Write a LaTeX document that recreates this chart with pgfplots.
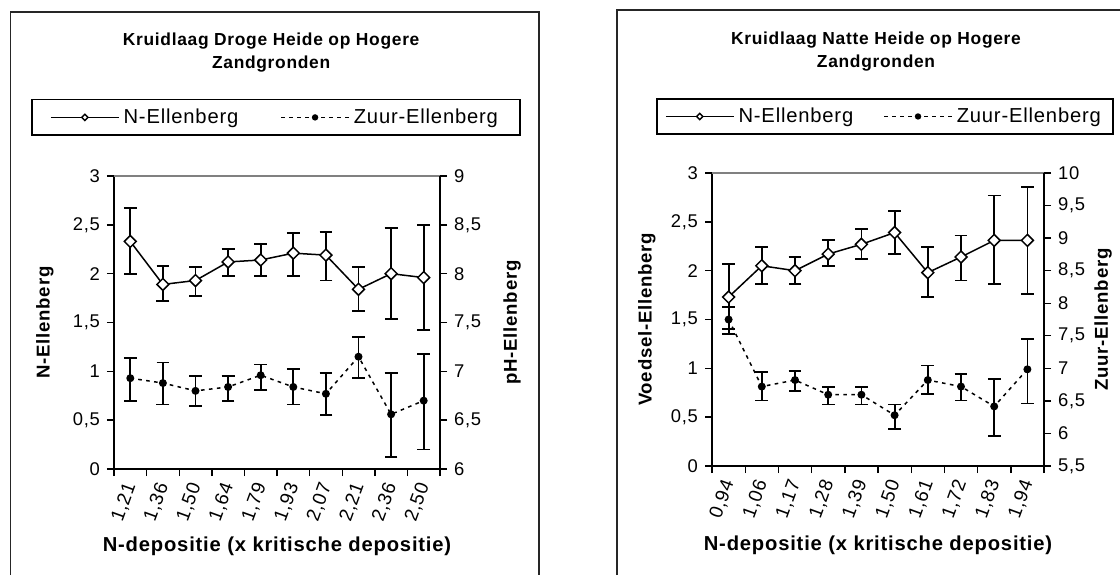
\documentclass[border=0pt]{standalone}
\usepackage{fontspec}
\setmainfont{Liberation Sans}[LetterSpace=4]
\usepackage{pgfplots}
\pgfplotsset{compat=1.18}
\usepackage{pgfplotstable}

% left chart: N-Ellenberg
\pgfplotstableread{
x   y    ep   em
0.5 2.33 0.34 0.33
1.5 1.89 0.19 0.17
2.5 1.93 0.14 0.16
3.5 2.12 0.13 0.14
4.5 2.14 0.16 0.16
5.5 2.21 0.21 0.23
6.5 2.19 0.24 0.26
7.5 1.84 0.23 0.22
8.5 2.00 0.47 0.46
9.5 1.96 0.54 0.54
}\leftN
% left chart: pH-Ellenberg (Zuur)
\pgfplotstableread{
x   y    ep    em
0.5 6.93 0.21  0.23
1.5 6.88 0.21  0.22
2.5 6.80 0.15  0.155
3.5 6.84 0.11  0.14
4.5 6.96 0.11  0.15
5.5 6.84 0.18  0.18
6.5 6.77 0.215 0.22
7.5 7.15 0.20  0.22
8.5 6.56 0.425 0.44
9.5 6.70 0.48  0.50
}\leftZ
% right chart: Voedsel (N)-Ellenberg
\pgfplotstableread{
x   y    ep   em
0.5 1.73 0.34 0.33
1.5 2.05 0.19 0.19
2.5 2.00 0.14 0.14
3.5 2.17 0.14 0.12
4.5 2.27 0.16 0.15
5.5 2.39 0.22 0.22
6.5 1.98 0.26 0.25
7.5 2.14 0.22 0.24
8.5 2.31 0.46 0.45
9.5 2.31 0.55 0.55
}\rightN
% right chart: Zuur-Ellenberg
\pgfplotstableread{
x   y     ep    em
0.5 7.75  0.195 0.225
1.5 6.72  0.22  0.215
2.5 6.82  0.14  0.165
3.5 6.595 0.12  0.15
4.5 6.595 0.12  0.15
5.5 6.28  0.165 0.21
6.5 6.82  0.225 0.21
7.5 6.72  0.19  0.215
8.5 6.415 0.42  0.45
9.5 6.985 0.465 0.525
}\rightZ

\pgfplotsset{
  base/.style={
    scale only axis, xmin=0, xmax=10, enlargelimits=false, clip=false,
    axis line style={-, line width=0.7pt, black},
    tick style={line width=0.7pt, black},
    tick align=outside, major tick length=3.5pt, minor tick length=3.5pt,
    /pgf/number format/assume math mode=true,
    /pgf/number format/use comma,
    ticklabel style={font=\fontsize{9.2}{10}\selectfont},
  },
  nstyle/.style={black, line width=0.75pt, mark=square*, mark size=2.1pt,
    mark options={rotate=45, fill=white, solid, line width=0.75pt},
    error bars/.cd, y dir=both, y explicit,
    error bar style={line width=0.9pt, black, solid},
    error mark options={rotate=90, mark size=3.2pt, line width=0.9pt, solid}},
  zstyle/.style={black, line width=0.75pt, dash pattern=on 1.8pt off 2.2pt,
    mark=*, mark size=1.6pt, mark options={solid},
    error bars/.cd, y dir=both, y explicit,
    error bar style={line width=0.9pt, black, solid},
    error mark options={rotate=90, mark size=3.2pt, line width=0.9pt, solid}},
  legimg/.style={legend image code/.code={%
    \draw[mark repeat=2, mark phase=2] plot coordinates {(0pt,0pt) (17pt,0pt) (34pt,0pt)};}},
}

\begin{document}
\begin{tikzpicture}
\useasboundingbox (0,0) rectangle (560pt,287.5pt);
% chart frames
\draw[line width=0.6pt, black!85] (5.35pt,0pt) -- (5.35pt,281.5pt) -- (269.5pt,281.5pt) -- (269.5pt,0pt);
\draw[line width=0.6pt, black!85] (308.5pt,0pt) -- (308.5pt,282.5pt) -- (560pt,282.5pt);

% ---------------- left chart ----------------
\begin{axis}[base, at={(57pt,53pt)}, anchor=south west, width=163pt, height=146.5pt,
  ymin=0, ymax=3, ytick={0,0.5,...,3},
  axis x line*=bottom, axis y line*=left,
  xtick={0.5,1.5,...,9.5},
  xticklabels={{1,21},{1,36},{1,50},{1,64},{1,79},{1,93},{2,07},{2,21},{2,36},{2,50}},
  major x tick style={draw=none},
  minor xtick={0,1,...,10},
  xticklabel style={rotate=70, anchor=east, yshift=-1.5pt, font=\fontsize{9.5}{10}\selectfont},
  xlabel={N-depositie (x kritische depositie)},
  every axis x label/.style={at={(axis description cs:0.5,-0.265)}, anchor=center, font=\fontsize{10.1}{11}\selectfont\bfseries},
  ylabel={N-Ellenberg},
  every axis y label/.style={at={(axis description cs:-0.212,0.5)}, rotate=90, anchor=center, font=\fontsize{9.3}{11}\selectfont\bfseries},
  title={Kruidlaag Droge Heide op Hogere\\Zandgronden},
  every axis title/.style={at={(axis description cs:0.482,1.4215)}, anchor=center, align=center, font=\fontsize{8.7}{11.2}\selectfont\bfseries},
]
\draw[gray, line width=0.7pt] (rel axis cs:0,1) -- (rel axis cs:1,1);
\addplot[nstyle] table[x=x, y=y, y error plus=ep, y error minus=em]{\leftN};
\end{axis}
\begin{axis}[base, at={(57pt,53pt)}, anchor=south west, width=163pt, height=146.5pt,
  ymin=6, ymax=9, ytick={6,6.5,...,9},
  axis y line*=right, axis x line=none,
  ylabel={pH-Ellenberg},
  every axis y label/.style={at={(axis description cs:1.221,0.5)}, rotate=90, anchor=center, font=\fontsize{9.3}{11}\selectfont\bfseries},
  legimg,
  legend columns=2,
  legend style={at={(axis description cs:0.497,1.2)}, anchor=center, draw=black, line width=0.7pt,
    font=\fontsize{10.1}{11}\selectfont, inner xsep=9pt, inner ysep=2.4pt,
    /tikz/every even column/.append style={column sep=19pt}},
]
\addlegendimage{black, line width=0.75pt, mark=square*, mark size=1.1pt, mark options={rotate=45, fill=white, solid, line width=0.7pt}}
\addlegendentry{N-Ellenberg}
\addlegendimage{black, line width=0.75pt, dash pattern=on 1.8pt off 2.2pt, mark=*, mark size=1.2pt, mark options={solid}}
\addlegendentry{Zuur-Ellenberg}
\addplot[forget plot, zstyle] table[x=x, y=y, y error plus=ep, y error minus=em]{\leftZ};
\end{axis}

% ---------------- right chart ----------------
\begin{axis}[base, at={(356pt,54.5pt)}, anchor=south west, width=166pt, height=146.5pt,
  ymin=0, ymax=3, ytick={0,0.5,...,3},
  axis x line*=bottom, axis y line*=left,
  xtick={0.5,1.5,...,9.5},
  xticklabels={{0,94},{1,06},{1,17},{1,28},{1,39},{1,50},{1,61},{1,72},{1,83},{1,94}},
  major x tick style={draw=none},
  minor xtick={0,1,...,10},
  xticklabel style={rotate=70, anchor=east, yshift=-1.5pt, font=\fontsize{9.5}{10}\selectfont},
  xlabel={N-depositie (x kritische depositie)},
  every axis x label/.style={at={(axis description cs:0.5,-0.27)}, anchor=center, font=\fontsize{10.1}{11}\selectfont\bfseries},
  ylabel={Voedsel-Ellenberg},
  every axis y label/.style={at={(axis description cs:-0.196,0.5)}, rotate=90, anchor=center, font=\fontsize{9.3}{11}\selectfont\bfseries},
  title={Kruidlaag Natte Heide op Hogere\\Zandgronden},
  every axis title/.style={at={(axis description cs:0.494,1.4147)}, anchor=center, align=center, font=\fontsize{8.7}{11.2}\selectfont\bfseries},
]
\draw[gray, line width=0.7pt] (rel axis cs:0,1) -- (rel axis cs:1,1);
\addplot[nstyle] table[x=x, y=y, y error plus=ep, y error minus=em]{\rightN};
\end{axis}
\begin{axis}[base, at={(356pt,54.5pt)}, anchor=south west, width=166pt, height=146.5pt,
  ymin=5.5, ymax=10, ytick={5.5,6,...,10},
  axis y line*=right, axis x line=none,
  ylabel={Zuur-Ellenberg},
  every axis y label/.style={at={(axis description cs:1.178,0.5)}, rotate=90, anchor=center, font=\fontsize{9.3}{11}\selectfont\bfseries},
  legimg,
  legend columns=2,
  legend style={at={(axis description cs:0.521,1.193)}, anchor=center, draw=black, line width=0.7pt,
    font=\fontsize{10.1}{11}\selectfont, inner xsep=4pt, inner ysep=2.4pt,
    /tikz/every even column/.append style={column sep=13pt}},
]
\addlegendimage{black, line width=0.75pt, mark=square*, mark size=1.1pt, mark options={rotate=45, fill=white, solid, line width=0.7pt}}
\addlegendentry{N-Ellenberg}
\addlegendimage{black, line width=0.75pt, dash pattern=on 1.8pt off 2.2pt, mark=*, mark size=1.2pt, mark options={solid}}
\addlegendentry{Zuur-Ellenberg}
\addplot[forget plot, zstyle] table[x=x, y=y, y error plus=ep, y error minus=em]{\rightZ};
\end{axis}
\end{tikzpicture}
\end{document}
